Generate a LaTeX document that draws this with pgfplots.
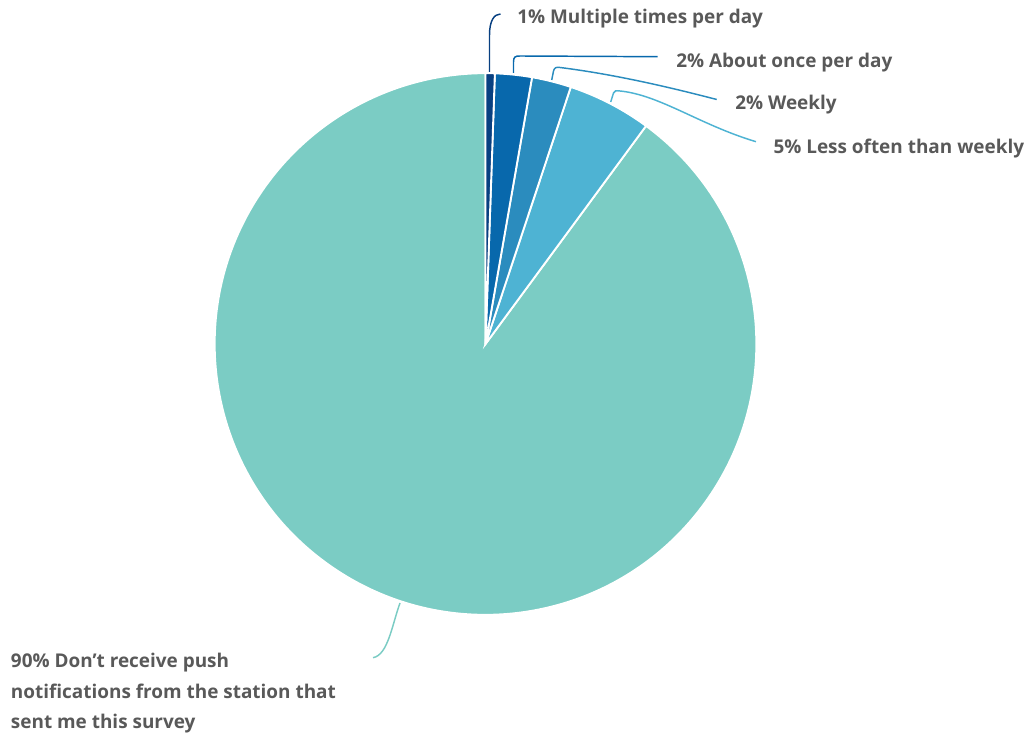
\documentclass[border=0pt]{standalone}
\usepackage{pgfplots}
\pgfplotsset{compat=1.18}
\usepackage{pgfplotstable}
\usepackage{fontspec}
\setmainfont{Open Sans}
\definecolor{cA}{HTML}{084081}
\definecolor{cB}{HTML}{0868AC}
\definecolor{cC}{HTML}{2B8CBE}
\definecolor{cD}{HTML}{4EB3D3}
\definecolor{cE}{HTML}{7BCCC4}
\definecolor{txt}{HTML}{595959}
\pgfplotstableread{
value
0.55
2.2
2.35
5.0
89.9
}\piedata
\begin{document}
\begin{tikzpicture}
\pgfplotstablegetelem{0}{value}\of\piedata \let\va\pgfplotsretval
\pgfplotstablegetelem{1}{value}\of\piedata \let\vb\pgfplotsretval
\pgfplotstablegetelem{2}{value}\of\piedata \let\vc\pgfplotsretval
\pgfplotstablegetelem{3}{value}\of\piedata \let\vd\pgfplotsretval
\pgfplotstablegetelem{4}{value}\of\piedata \let\ve\pgfplotsretval
\pgfmathsetmacro\aA{90}
\pgfmathsetmacro\aB{\aA-3.6*\va}
\pgfmathsetmacro\aC{\aB-3.6*\vb}
\pgfmathsetmacro\aD{\aC-3.6*\vc}
\pgfmathsetmacro\aE{\aD-3.6*\vd}
\pgfmathsetmacro\aF{\aE-3.6*\ve}
\def\R{203.1pt}
\begin{axis}[
  x=0.75pt, y=0.75pt,
  xmin=0, xmax=1034, ymin=0, ymax=735,
  hide axis, clip=false,
  font=\bfseries\fontsize{14.2pt}{17pt}\selectfont,
]
\path[use as bounding box] (axis cs:0,0) rectangle (axis cs:1034,735);
\coordinate (O) at (axis cs:485.5,391);
\fill[cE, draw=white, line width=1.4pt] (O) -- ([shift={(\aE:\R)}]O) arc[start angle=\aE, end angle=\aF, radius=\R] -- cycle;
\fill[cD, draw=white, line width=1.4pt] (O) -- ([shift={(\aD:\R)}]O) arc[start angle=\aD, end angle=\aE, radius=\R] -- cycle;
\fill[cC, draw=white, line width=1.4pt] (O) -- ([shift={(\aC:\R)}]O) arc[start angle=\aC, end angle=\aD, radius=\R] -- cycle;
\fill[cB, draw=white, line width=1.4pt] (O) -- ([shift={(\aB:\R)}]O) arc[start angle=\aB, end angle=\aC, radius=\R] -- cycle;
\fill[cA, draw=white, line width=1.4pt] (O) -- ([shift={(\aA:\R)}]O) arc[start angle=\aA, end angle=\aB, radius=\R] -- cycle;
% leader lines
\draw[cA, line width=1.1pt] (axis cs:489.5,663) -- (axis cs:489.5,700) .. controls (axis cs:489.5,714) and (axis cs:494,721) .. (axis cs:500.5,721);
\draw[cB, line width=1.1pt] (axis cs:513.5,662) -- (axis cs:513.5,673) .. controls (axis cs:513.5,678) and (axis cs:515,679) .. (axis cs:520,679) -- (axis cs:657.5,678.3);
\draw[cC, line width=1.1pt] (axis cs:551.7,655) -- (axis cs:553.5,664) .. controls (axis cs:554.5,667.5) and (axis cs:556,668) .. (axis cs:560,667.5) .. controls (axis cs:620,660) and (axis cs:680,645) .. (axis cs:716.7,635.5);
\draw[cD, line width=1.1pt] (axis cs:610.7,633) -- (axis cs:613.5,642) .. controls (axis cs:614.5,644.5) and (axis cs:616,644.5) .. (axis cs:620,644) .. controls (axis cs:660,640) and (axis cs:700,610) .. (axis cs:756,593.3);
\draw[cE, line width=1.1pt] (axis cs:400,132) .. controls (axis cs:392,110) and (axis cs:388,80) .. (axis cs:373,77.3);
% labels
\node[txt, anchor=base west, inner sep=0pt] at (axis cs:517,711) {1\% Multiple times per day};
\node[txt, anchor=base west, inner sep=0pt] at (axis cs:676,667.7) {2\% About once per day};
\node[txt, anchor=base west, inner sep=0pt] at (axis cs:735,625) {2\% Weekly};
\node[txt, anchor=base west, inner sep=0pt] at (axis cs:773.3,581.7) {5\% Less often than weekly};
\node[txt, anchor=base west, inner sep=0pt] at (axis cs:10.7,67.7) {90\% Don’t receive push};
\node[txt, anchor=base west, inner sep=0pt] at (axis cs:10.7,36.3) {notifications from the station that};
\node[txt, anchor=base west, inner sep=0pt] at (axis cs:10.7,6.7) {sent me this survey};
\end{axis}
\end{tikzpicture}
\end{document}
